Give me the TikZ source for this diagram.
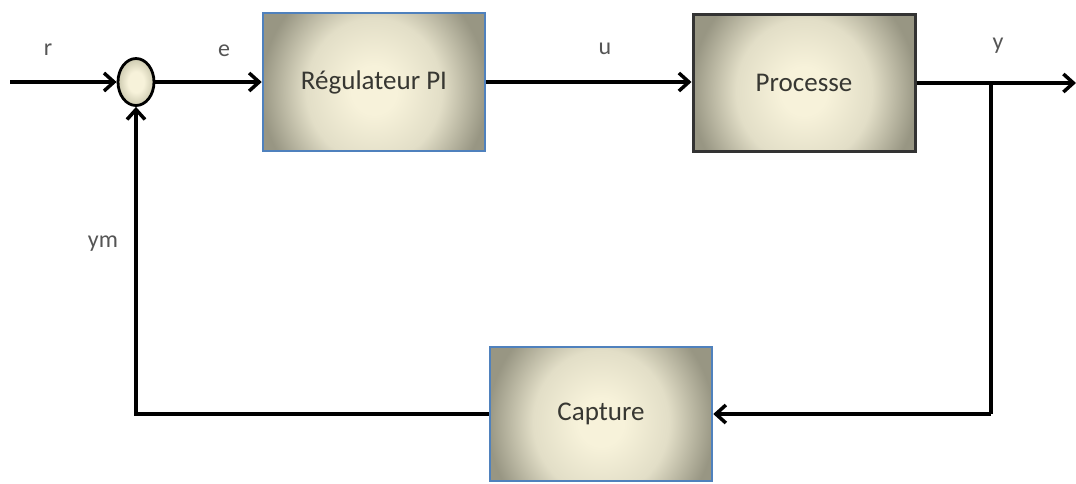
\documentclass[tikz,border=0pt]{standalone}
\usepackage{fontspec}
\setmainfont{Carlito}
\usetikzlibrary{arrows.meta,shapes.geometric}
\definecolor{boxcenter}{RGB}{247,242,218}
\definecolor{boxmid}{RGB}{226,222,199}
\definecolor{boxedge}{RGB}{152,150,131}
\definecolor{sumedge}{RGB}{205,202,176}
\definecolor{officeblue}{RGB}{79,129,189}
\definecolor{labelgray}{RGB}{85,85,85}
\definecolor{textgray}{RGB}{55,55,50}
% soft cream glow that darkens towards the box sides
% (the path fills the inner 25bp radius of the shading)
\pgfdeclareradialshading{boxglow}{\pgfpointorigin}{%
  color(0bp)=(boxcenter); color(5bp)=(boxcenter);
  color(15bp)=(boxmid); color(25bp)=(boxedge); color(50bp)=(boxedge)}
\pgfdeclareradialshading{sumglow}{\pgfpointorigin}{%
  color(0bp)=(boxcenter); color(11bp)=(boxcenter);
  color(25bp)=(sumedge); color(50bp)=(sumedge)}
\tikzset{
  blockbox/.style={rectangle, inner sep=0pt,
    path picture={\shade[shading=boxglow]
      ([shift={(-113pt,-128pt)}]path picture bounding box.center) rectangle
      ([shift={(113pt,112pt)}]path picture bounding box.center);},
    font=\fontsize{27}{30}\selectfont, text=textgray},
  bluebox/.style={blockbox, draw=officeblue, line width=2.5pt},
  darkbox/.style={blockbox, draw=black!80, line width=3pt},
  sumnode/.style={ellipse, inner sep=0pt, minimum width=36pt, minimum height=47pt,
    draw=black, line width=2.8pt, shading=sumglow},
  signal/.style={line width=4pt, -{Straight Barb[length=10pt,width=18pt,line width=3.5pt]}},
  wire/.style={line width=4pt},
  siglabel/.style={font=\fontsize{24}{26}\selectfont, text=labelgray},
}
\begin{document}
\begin{tikzpicture}[x=1pt,y=-1pt]
  \useasboundingbox (0,0) rectangle (1076,483);
  % blocks
  \node[sumnode] (sum) at (136,82) {};
  \node[bluebox, minimum width=222pt, minimum height=138pt] (reg) at (374,82) {Régulateur PI};
  \node[darkbox, minimum width=222pt, minimum height=137pt] (proc) at (804,83) {Processe};
  \node[bluebox, minimum width=222pt, minimum height=134pt] (cap) at (601,414) {Capture};
  % free ends and branch point
  \coordinate (rin) at (10,82);
  \coordinate (yout) at (1076,83);
  \coordinate (br) at (991,83);
  \coordinate (fbup) at (136,380);
  % forward path
  \draw[signal] (rin) -- (sum.west);
  \draw[signal] (sum.east) -- (reg.west);
  \draw[signal] (reg.east) -- (reg.east -| proc.west);
  \draw[signal] (proc.east) -- (yout);
  % feedback path
  \draw[wire] (br) -- (br |- cap.east);
  \draw[signal] (br |- cap.east) -- (cap.east);
  \draw[wire] (cap.west) -| (fbup);
  \draw[signal] (fbup) -- (sum.south);
  % signal labels
  \node[siglabel] (lr) at (48,50) {r};
  \node[siglabel] (le) at (224,51) {e};
  \node[siglabel] (lu) at (605,49) {u};
  \node[siglabel] (ly) at (998,46) {y};
  \node[siglabel] (lym) at (103,244) {ym};
\end{tikzpicture}
\end{document}
